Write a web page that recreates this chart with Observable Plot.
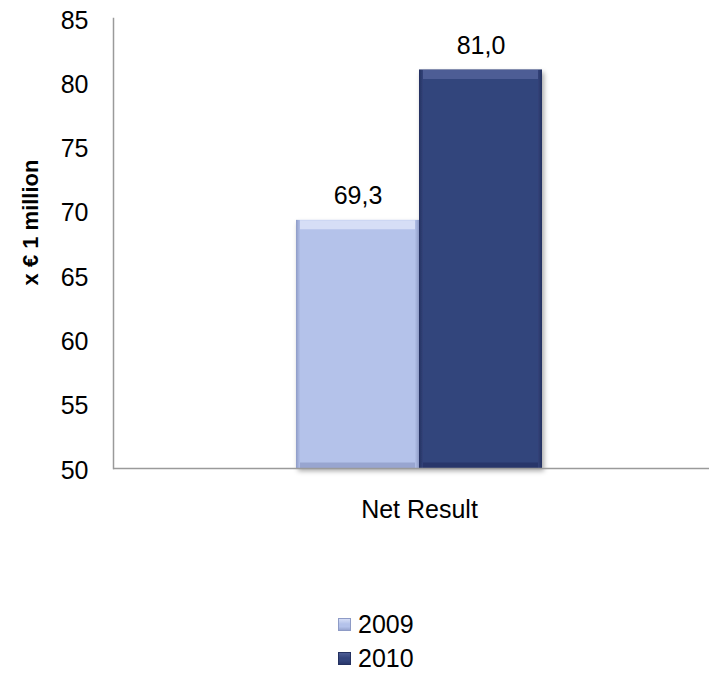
<!DOCTYPE html>
<html>
<head>
<meta charset="utf-8">
<script src="https://cdn.jsdelivr.net/npm/d3@7"></script>
<script src="https://cdn.jsdelivr.net/npm/@observablehq/plot@0.6"></script>
<style>
  html, body { margin: 0; padding: 0; overflow: hidden; background: #fff; font-family: "Liberation Sans", Arial, sans-serif; }
  #chart { position: relative; width: 709px; height: 674px; overflow: hidden; }
  #chart svg { display: block; max-width: none; }
  #legend { position: absolute; left: 338px; top: 607px; font-size: 25px; color: #000; }
  #legend .row { display: flex; align-items: center; height: 34px; }
  #legend .sw { width: 13px; height: 13px; margin-right: 7px; box-sizing: border-box; }
</style>
</head>
<body>
<div id="chart"></div>
<script>
// Net result per year, in millions of euros
const category = "Net Result";
const years = ["2009", "2010"];
const values = [69.3, 81.0];
const yTicks = [50, 55, 60, 65, 70, 75, 80, 85];
const yTitle = "x € 1 million";

// Bar colours: base fill, darker edge, lighter top bevel, darker bottom bevel
const palette = {
  "2009": { base: "#b4c2ea", edge: "#8e9bc6", top: "#d6def6", bottom: "#98a5d0" },
  "2010": { base: "#33447c", edge: "#243160", top: "#4d5d95", bottom: "#28366a" }
};

const rows = years.map((year, i) => ({ category, year, value: values[i] }));
const fmt = v => d3.format(".1f")(v).replace(".", ",");

const plot = Plot.plot({
  width: 709,
  height: 540,
  marginTop: 18,
  marginBottom: 72,
  marginLeft: 113,
  marginRight: 0,
  style: { fontFamily: '"Liberation Sans", Arial, sans-serif', fontSize: "25px", color: "#000", background: "#fff", maxWidth: "none" },
  // the category group sits slightly right of the frame centre, as its band runs past the right edge
  x: { domain: years, range: [296, 542], paddingInner: 0, paddingOuter: 0, axis: null },
  y: { domain: [50, 85], label: null },
  color: { domain: years, range: years.map(y => `url(#bar${y})`) },
  marks: [
    Plot.barY(rows, { x: "year", y1: 50, y2: "value", fill: "year" }),
    Plot.tickY(rows, { x: "year", y: "value", stroke: d => palette[d.year].top, strokeWidth: 9, dy: 4.5, insetLeft: 4, insetRight: 4 }),
    Plot.tickY(rows, { x: "year", y: 50, stroke: d => palette[d.year].bottom, strokeWidth: 6, dy: -3, insetLeft: 4, insetRight: 4 }),
    Plot.text(rows, { x: "year", y: "value", text: d => fmt(d.value), lineAnchor: "bottom", dy: -16, fontSize: 25, fill: "#000" }),
    Plot.ruleY([50], { stroke: "#9a9a9a", strokeWidth: 1.5 }),
    Plot.frame({ anchor: "left", stroke: "#9a9a9a", strokeWidth: 1.5 }),
    Plot.axisY({ ticks: yTicks, tickSize: 0, tickPadding: 25, fontSize: 25, label: null, dy: 2 }),
    // category label under the bar group
    Plot.text([category], { frameAnchor: "bottom", lineAnchor: "top", dx: 8, dy: 32, fontSize: 25, fill: "#000" }),
    Plot.text([yTitle], { frameAnchor: "left", textAnchor: "middle", rotate: -90, dx: -83, dy: -21, fontWeight: "bold", fontSize: 22, fill: "#000" })
  ]
});

// Gradients for the bevelled bar sides, and a soft drop shadow
const svg = d3.select(plot);
const defs = svg.insert("defs", ":first-child");
years.forEach(y => {
  const g = defs.append("linearGradient").attr("id", `bar${y}`).attr("x1", 0).attr("x2", 1).attr("y1", 0).attr("y2", 0);
  [[0, palette[y].edge], [0.035, palette[y].base], [0.965, palette[y].base], [1, palette[y].edge]]
    .forEach(([o, c]) => g.append("stop").attr("offset", o).attr("stop-color", c));
});
const f = defs.append("filter").attr("id", "shadow").attr("x", "-10%").attr("y", "-10%").attr("width", "130%").attr("height", "130%");
f.append("feDropShadow").attr("dx", 2).attr("dy", 3).attr("stdDeviation", 2.5).attr("flood-color", "#000").attr("flood-opacity", 0.35);
svg.selectAll('g[aria-label="bar"]').attr("filter", "url(#shadow)");

const chart = document.getElementById("chart");
chart.appendChild(plot);

// Legend, stacked vertically below the plot
const legend = d3.select(chart).append("div").attr("id", "legend");
years.forEach(y => {
  const row = legend.append("div").attr("class", "row");
  row.append("div").attr("class", "sw")
    .style("background", `linear-gradient(180deg, ${palette[y].top} 0%, ${palette[y].base} 45%, ${palette[y].base} 70%, ${palette[y].bottom} 100%)`)
    .style("border", `1px solid ${palette[y].edge}`);
  row.append("span").text(y);
});
</script>
</body>
</html>
